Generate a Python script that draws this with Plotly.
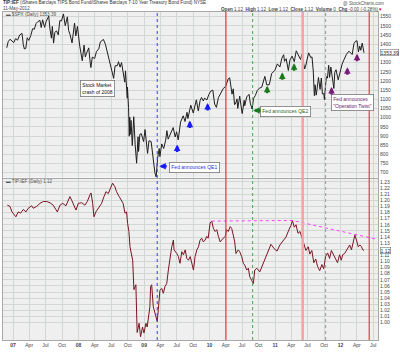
import plotly.graph_objects as go

# ---------------- data ----------------
spx_dates = ["2006-11-27","2006-12-05","2006-12-15","2006-12-29","2007-01-05","2007-01-16","2007-01-26","2007-02-07",
"2007-02-20","2007-02-27","2007-03-05","2007-03-13","2007-03-21","2007-03-30","2007-04-10","2007-04-20","2007-04-30",
"2007-05-09","2007-05-18","2007-05-31","2007-06-07","2007-06-15","2007-06-26","2007-07-05","2007-07-19","2007-07-26",
"2007-08-03","2007-08-08","2007-08-15","2007-08-22","2007-08-31","2007-09-10","2007-09-19","2007-09-28","2007-10-09",
"2007-10-19","2007-10-31","2007-11-07","2007-11-15","2007-11-26","2007-12-10","2007-12-17","2007-12-26","2008-01-08",
"2008-01-18","2008-01-22","2008-02-01","2008-02-08","2008-02-14","2008-02-27","2008-03-07","2008-03-10","2008-03-18",
"2008-03-31","2008-04-10","2008-04-23","2008-05-02","2008-05-19","2008-05-30","2008-06-09","2008-06-20","2008-06-30",
"2008-07-15","2008-07-23","2008-08-05","2008-08-11","2008-08-20","2008-08-28","2008-09-05","2008-09-15","2008-09-19",
"2008-09-29","2008-09-30","2008-10-06","2008-10-10","2008-10-13","2008-10-15","2008-10-20","2008-10-27","2008-11-04",
"2008-11-12","2008-11-20","2008-11-28","2008-12-01","2008-12-08","2008-12-16","2008-12-29","2009-01-06","2009-01-20",
"2009-01-28","2009-02-09","2009-02-17","2009-02-23","2009-03-02","2009-03-09","2009-03-17","2009-03-26","2009-03-30",
"2009-04-09","2009-04-20","2009-05-01","2009-05-08","2009-05-15","2009-05-29","2009-06-12","2009-06-23","2009-07-01",
"2009-07-10","2009-07-23","2009-08-07","2009-08-17","2009-08-28","2009-09-02","2009-09-18","2009-10-02","2009-10-19",
"2009-10-30","2009-11-09","2009-11-17","2009-11-27","2009-12-04","2009-12-17","2009-12-28","2010-01-08","2010-01-19",
"2010-01-29","2010-02-08","2010-02-19","2010-03-05","2010-03-19","2010-03-31","2010-04-15","2010-04-23","2010-04-27",
"2010-05-06","2010-05-13","2010-05-20","2010-05-25","2010-06-03","2010-06-07","2010-06-18","2010-06-30","2010-07-02",
"2010-07-13","2010-07-16","2010-07-27","2010-08-09","2010-08-16","2010-08-26","2010-09-03","2010-09-13","2010-09-24",
"2010-10-05","2010-10-19","2010-11-05","2010-11-16","2010-11-30","2010-12-13","2010-12-31","2011-01-14","2011-01-28",
"2011-02-08","2011-02-18","2011-02-23","2011-03-04","2011-03-16","2011-03-25","2011-04-06","2011-04-18","2011-04-29",
"2011-05-09","2011-05-23","2011-05-31","2011-06-10","2011-06-15","2011-06-22","2011-07-07","2011-07-19","2011-07-26",
"2011-08-02","2011-08-08","2011-08-10","2011-08-12","2011-08-18","2011-08-19","2011-08-31","2011-09-09","2011-09-16",
"2011-09-22","2011-09-30","2011-10-03","2011-10-14","2011-10-20","2011-10-27","2011-11-01","2011-11-08","2011-11-17",
"2011-11-25","2011-11-30","2011-12-07","2011-12-19","2011-12-30","2012-01-10","2012-01-20","2012-02-03","2012-02-17",
"2012-03-06","2012-03-16","2012-03-26","2012-04-02","2012-04-10","2012-04-17","2012-04-23","2012-05-01","2012-05-08",
"2012-05-11"]
spx_values = [1381,1414,1427,1418,1409,1431,1422,1450,
1459,1399,1374,1377,1435,1421,1448,1484,1482,
1512,1522,1530,1491,1533,1492,1525,1553,1482,
1433,1497,1406,1464,1473,1451,1529,1527,1565,
1501,1549,1475,1452,1407,1515,1445,1497,1390,
1325,1310,1395,1331,1348,1380,1293,1273,1330,
1322,1360,1375,1413,1426,1400,1361,1318,1280,
1214,1282,1284,1305,1275,1300,1242,1193,1255,
1106,1166,1056,899,1003,908,985,848,1005,
852,752,896,816,909,913,870,935,805,
874,870,789,743,700,677,778,832,788,
857,832,877,929,883,919,946,895,923,
879,976,1010,979,1029,995,1068,1025,1097,
1036,1093,1110,1091,1106,1097,1127,1145,1150,
1074,1056,1109,1139,1160,1169,1212,1217,1183,
1128,1157,1071,1074,1102,1050,1117,1031,1022,
1095,1065,1113,1127,1079,1047,1104,1121,1148,
1160,1166,1225,1178,1180,1240,1258,1293,1276,
1324,1343,1307,1321,1257,1314,1335,1305,1364,
1346,1317,1345,1271,1265,1287,1353,1327,1331,
1254,1119,1121,1179,1140,1123,1219,1154,1216,
1129,1131,1099,1224,1215,1285,1219,1276,1216,
1159,1247,1261,1206,1258,1292,1315,1345,1362,
1344,1404,1417,1419,1358,1390,1367,1406,1363,
1353.39]

ratio_dates = ["2006-11-30","2006-12-15","2006-12-26","2007-01-06","2007-01-17","2007-01-30","2007-02-12","2007-02-27",
"2007-03-14","2007-03-27","2007-04-15","2007-04-24","2007-05-13","2007-05-31","2007-06-19","2007-07-08","2007-07-26",
"2007-08-13","2007-09-05","2007-09-20","2007-10-05","2007-10-23","2007-11-05","2007-11-14","2007-11-24","2007-12-07",
"2007-12-18","2007-12-31","2008-01-19","2008-02-06","2008-02-19","2008-03-05","2008-03-11","2008-03-20","2008-03-27",
"2008-04-07","2008-04-20","2008-04-30","2008-05-09","2008-05-22","2008-06-02","2008-06-15","2008-06-24","2008-07-09",
"2008-07-22","2008-07-31","2008-08-15","2008-08-28","2008-09-06","2008-09-16","2008-09-25","2008-10-01","2008-10-08",
"2008-10-14","2008-10-29","2008-11-05","2008-11-16","2008-11-23","2008-12-04","2008-12-12","2008-12-23","2008-12-31",
"2009-01-11","2009-01-18","2009-02-02","2009-02-06","2009-02-12","2009-02-21","2009-03-08","2009-03-15","2009-03-21",
"2009-03-30","2009-04-09","2009-04-18","2009-04-27","2009-05-07","2009-05-16","2009-05-25","2009-06-04","2009-06-13",
"2009-06-17","2009-07-02","2009-07-11","2009-07-20","2009-07-30","2009-08-08","2009-08-18","2009-08-27","2009-09-05",
"2009-09-15","2009-09-24","2009-10-03","2009-10-12","2009-10-22","2009-10-31","2009-11-09","2009-11-18","2009-11-27",
"2009-12-07","2009-12-16","2009-12-24","2010-01-04","2010-01-13","2010-01-22","2010-02-01","2010-02-10","2010-02-19",
"2010-03-01","2010-03-09","2010-03-18","2010-03-29","2010-04-06","2010-04-15","2010-04-26","2010-05-04","2010-05-13",
"2010-05-21","2010-05-28","2010-06-04","2010-06-10","2010-06-18","2010-06-29","2010-07-08","2010-07-16","2010-07-27",
"2010-08-05","2010-08-13","2010-08-24","2010-09-02","2010-09-10","2010-09-21","2010-10-08","2010-10-20","2010-11-05",
"2010-11-22","2010-12-09","2010-12-27","2011-01-12","2011-01-28","2011-02-14","2011-03-03","2011-03-21","2011-03-31",
"2011-04-08","2011-04-18","2011-04-28","2011-05-09","2011-05-20","2011-05-31","2011-06-10","2011-06-22","2011-07-05",
"2011-07-14","2011-07-25","2011-08-05","2011-08-16","2011-08-26","2011-09-07","2011-09-19","2011-09-29","2011-10-10",
"2011-10-21","2011-11-01","2011-11-11","2011-11-23","2011-12-05","2011-12-15","2011-12-27","2012-01-05","2012-01-13",
"2012-01-24","2012-02-03","2012-02-10","2012-02-21","2012-03-02","2012-03-09","2012-03-21","2012-03-30","2012-04-09",
"2012-04-18","2012-04-27","2012-05-04","2012-05-11"]
ratio_values = [1.192,1.190,1.181,1.176,1.173,1.181,1.179,1.185,
1.181,1.187,1.191,1.187,1.190,1.195,1.198,1.198,1.196,
1.192,1.181,1.192,1.195,1.191,1.200,1.206,1.200,1.190,
1.184,1.195,1.196,1.192,1.198,1.209,1.212,1.195,1.173,
1.181,1.187,1.190,1.195,1.206,1.214,1.211,1.217,1.228,
1.222,1.214,1.206,1.198,1.195,1.179,1.181,1.162,1.149,
1.124,1.102,1.054,1.062,0.984,0.999,0.977,0.993,0.983,
0.999,0.993,1.026,1.059,1.062,1.026,1.010,1.002,1.021,
1.053,1.056,1.048,1.059,1.064,1.086,1.108,1.124,1.135,
1.119,1.113,1.108,1.097,1.116,1.111,1.119,1.105,1.102,
1.108,1.097,1.086,1.108,1.119,1.124,1.135,1.138,1.132,
1.135,1.141,1.138,1.163,1.166,1.154,1.149,1.152,1.141,
1.132,1.135,1.138,1.141,1.152,1.149,1.157,1.154,1.143,
1.132,1.113,1.116,1.119,1.116,1.108,1.097,1.094,1.086,
1.089,1.075,1.070,1.064,1.086,1.089,1.083,1.092,1.105,
1.118,1.128,1.121,1.117,1.127,1.134,1.140,1.153,1.159,
1.167,1.156,1.160,1.146,1.149,1.138,1.128,1.118,1.124,
1.112,1.118,1.098,1.104,1.092,1.085,1.095,1.088,1.108,
1.114,1.105,1.118,1.112,1.104,1.098,1.111,1.102,1.111,
1.113,1.119,1.123,1.127,1.119,1.127,1.143,1.135,1.124,
1.127,1.124,1.119,1.118]

x_tick_dates = ["2007-01-01","2007-04-01","2007-07-01","2007-10-01","2008-01-01","2008-04-01","2008-07-01","2008-10-01",
"2009-01-01","2009-04-01","2009-07-01","2009-10-01","2010-01-01","2010-04-01","2010-07-01","2010-10-01",
"2011-01-01","2011-04-01","2011-07-01","2011-10-01","2012-01-01","2012-04-01","2012-07-01"]
x_tick_text = ["<b>07</b>","Apr","Jul","Oct","<b>08</b>","Apr","Jul","Oct","<b>09</b>","Apr","Jul","Oct",
"<b>10</b>","Apr","Jul","Oct","<b>11</b>","Apr","Jul","Oct","<b>12</b>","Apr","Jul"]
spx_ticks = list(range(700, 1551, 50))
ratio_ticks = [round(1.00 + 0.01 * i, 2) for i in range(24)]
# labels hidden behind the last-value boxes
spx_tick_text = ["" if v == 1350 else str(v) for v in spx_ticks]
ratio_tick_text = ["" if abs(v - 1.12) < 1e-9 else f"{v:.2f}" for v in ratio_ticks]

# event lines: date, color, dash, width
events = [("2009-03-15", "#3b3bff", "dot", 1),
          ("2010-04-02", "#ee3a3a", "solid", 1.2),
          ("2010-08-29", "#55a055", "dot", 1),
          ("2011-06-04", "#f4a3a3", "solid", 2.5),
          ("2011-10-10", "#999999", "dot", 1),
          ("2012-06-09", "#ee3a3a", "solid", 1.2)]

# trend lines in lower panel (magenta)
trend_x = ["2010-01-13", "2011-04-08", "2012-07-26"]
trend_y = [1.166, 1.167, 1.136]

FONT = "Liberation Sans, Arial"
fig = go.Figure()
fig.add_trace(go.Scatter(x=spx_dates, y=spx_values, xaxis="x2", yaxis="y", mode="lines",
                         line=dict(color="#1e1e1e", width=1), showlegend=False, hoverinfo="skip"))
fig.add_trace(go.Scatter(x=ratio_dates, y=ratio_values, xaxis="x", yaxis="y2", mode="lines",
                         line=dict(color="#7a1424", width=1), showlegend=False, hoverinfo="skip"))
fig.add_trace(go.Scatter(x=trend_x, y=trend_y, xaxis="x", yaxis="y2", mode="lines",
                         line=dict(color="#ff3dff", width=1, dash="dot"), showlegend=False, hoverinfo="skip"))

shapes = []
for d, c, dash, w in events:
    shapes.append(dict(type="line", xref="x", yref="paper", x0=d, x1=d, y0=0, y1=1,
                       line=dict(color=c, width=w, dash=dash), layer="above"))

grid = "#d3d7d3"
axis_common = dict(showgrid=True, gridcolor=grid, gridwidth=1, showline=True, mirror=True,
                   linecolor="#a8a8a8", linewidth=1, ticks="", zeroline=False)
xr = ["2006-11-06", "2012-07-28"]

fig.update_layout(
    width=400, height=354, margin=dict(l=3, r=22, t=12, b=14),
    paper_bgcolor="white", plot_bgcolor="#efefef",
    font=dict(family=FONT, size=5, color="#333"),
    xaxis=dict(domain=[0, 1], anchor="y2", range=xr, type="date", tickvals=x_tick_dates, ticktext=x_tick_text,
               tickfont=dict(size=5, color="#444"), **axis_common),
    xaxis2=dict(domain=[0, 1], anchor="y", range=xr, type="date", matches="x", tickvals=x_tick_dates,
                showticklabels=False, **axis_common),
    yaxis=dict(domain=[0.4954, 1], anchor="x2", side="right", range=[674, 1575.5], tickvals=spx_ticks,
               ticktext=spx_tick_text, tickfont=dict(size=5, color="#444"), **axis_common),
    yaxis2=dict(domain=[0, 0.4909], anchor="x", side="right", range=[0.9717, 1.2348], tickvals=ratio_ticks,
                ticktext=ratio_tick_text, tickfont=dict(size=5, color="#444"), **axis_common),
    shapes=shapes,
)

ann = []
# header
ann.append(dict(xref="paper", yref="paper", x=-0.005, y=1.03, xanchor="left", yanchor="middle", showarrow=False,
                text="<b>TIP:IEF</b> (iShares Barclays TIPS Bond Fund/iShares Barclays 7-10 Year Treasury Bond Fund) NYSE",
                font=dict(size=4.6, color="#333")))
ann.append(dict(xref="paper", yref="paper", x=-0.005, y=1.011, xanchor="left", yanchor="middle", showarrow=False,
                text="11-May-2012", font=dict(size=4.6, color="#444")))
ann.append(dict(xref="paper", yref="paper", x=1.02, y=1.026, xanchor="right", yanchor="middle", showarrow=False,
                text="@ StockCharts.com", font=dict(size=4.6, color="#555")))
ann.append(dict(xref="paper", yref="paper", x=1.015, y=1.008, xanchor="right", yanchor="middle", showarrow=False,
                text="<b>Open</b> 1.12  <b>High</b> 1.12  <b>Low</b> 1.12  <b>Close</b> 1.12  <b>Volume</b> 0  <b>Chg</b> -0.00 (-0.28%) <span style='color:#d00'>▾</span>",
                font=dict(size=4.6, color="#444")))
# panel labels
ann.append(dict(xref="paper", yref="paper", x=0.003, y=0.991, xanchor="left", yanchor="middle", showarrow=False,
                text="▬ $SPX (Daily) 1353.39", font=dict(size=4.6, color="#555")))
ann.append(dict(xref="paper", yref="paper", x=0.003, y=0.482, xanchor="left", yanchor="middle", showarrow=False,
                text="▬ TIP:IEF (Daily) 1.12", font=dict(size=4.6, color="#555")))
# last-value boxes
ann.append(dict(xref="paper", yref="y", x=1.004, y=spx_values[-1], xanchor="left", yanchor="middle", showarrow=False,
                text="1353.39", font=dict(size=5, color="#222"), bgcolor="white", bordercolor="#777",
                borderwidth=0.6, borderpad=0))
ann.append(dict(xref="paper", yref="y2", x=1.004, y=ratio_values[-1], xanchor="left", yanchor="middle", showarrow=False,
                text="1.12", font=dict(size=5, color="#222"), bgcolor="white", bordercolor="#777",
                borderwidth=0.6, borderpad=0))

# text boxes
boxes = [("2008-04-17", 1161, "Stock Market<br>crash of 2008", "#111"),
         ("2009-10-08", 730, "Fed announces QE1", "#2233cc"),
         ("2011-03-02", 1033, "Fed announces QE2", "#1f5f1f"),
         ("2012-03-08", 1081, "Fed announces<br>\"Operation Twist\"", "#6a1a6a")]
for d, v, t, c in boxes:
    ann.append(dict(xref="x2", yref="y", x=d, y=v, xanchor="center", yanchor="middle", showarrow=False,
                    text=t, align="left", font=dict(size=5, color=c), bgcolor="white",
                    bordercolor="#777", borderwidth=0.8, borderpad=1.5))

# arrows: date, value (tip), direction, color
arrows = [("2009-03-26", 735, "left", "#1a1aff"),
          ("2009-07-04", 854, "up", "#1a1aff"),
          ("2009-09-13", 984, "up", "#1a1aff"),
          ("2009-12-21", 1080, "up", "#1a1aff"),
          ("2010-09-01", 1039, "left", "#1a7a1a"),
          ("2010-11-18", 1174, "up", "#1a7a1a"),
          ("2011-02-10", 1247, "up", "#1a7a1a"),
          ("2011-04-17", 1297, "up", "#1a7a1a"),
          ("2011-11-12", 1167, "up", "#7a1a7a"),
          ("2012-02-08", 1275, "up", "#7a1a7a"),
          ("2012-04-02", 1348, "up", "#7a1a7a")]
for d, v, dirn, c in arrows:
    ax, ay = (0, 9) if dirn == "up" else (9, 0)
    ann.append(dict(xref="x2", yref="y", x=d, y=v, ax=ax, ay=ay, text="", showarrow=True,
                    arrowhead=2, arrowsize=0.55, arrowwidth=2.4, arrowcolor=c))

fig.update_layout(annotations=ann)
fig.write_html("out.html")
